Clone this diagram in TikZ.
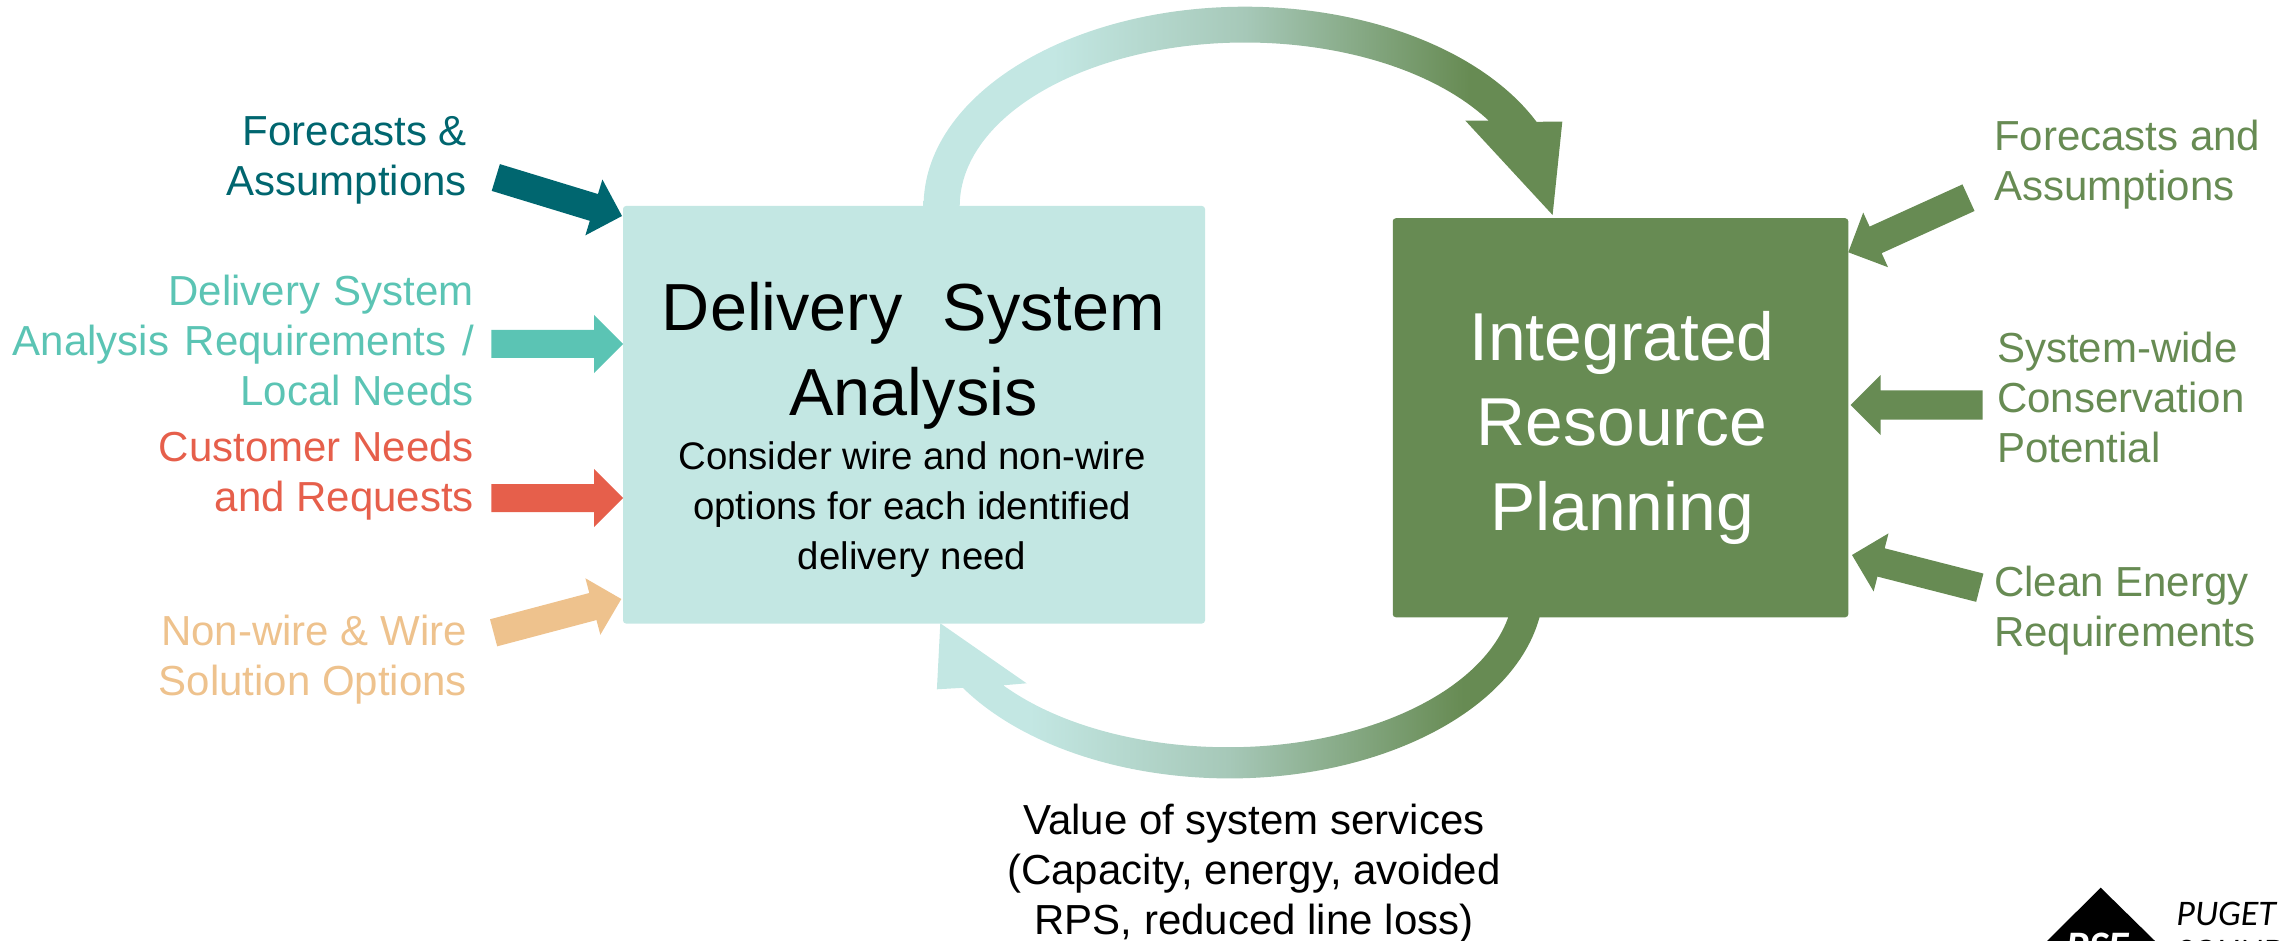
\documentclass[tikz,border=0pt]{standalone}
\usepackage{fontspec}
\setmainfont{Liberation Sans}
\newfontfamily\logofont{Carlito}
\usetikzlibrary{calc}
\definecolor{cDark}{HTML}{00666F}
\definecolor{cMid}{HTML}{5BC4B4}
\definecolor{cRed}{HTML}{E65F4B}
\definecolor{cOrange}{HTML}{EEC28D}
\definecolor{cLight}{HTML}{C3E7E3}
\definecolor{cGreen}{HTML}{678B53}
\definecolor{cBlend}{HTML}{A6C8B8}
% the filled rectangle covers the central 25bp .. 75bp of the shading
\pgfdeclarehorizontalshading{upperfade}{100bp}{color(0bp)=(cLight); color(35.2bp)=(cLight); color(50.2bp)=(cBlend); color(67.7bp)=(cGreen); color(100bp)=(cGreen)}
\pgfdeclarehorizontalshading{lowerfade}{100bp}{color(0bp)=(cLight); color(33bp)=(cLight); color(49.1bp)=(cBlend); color(68bp)=(cGreen); color(100bp)=(cGreen)}
\tikzset{
  x=0.5pt,y=-0.5pt,
  box/.style={rectangle,rounded corners=1.5pt,inner sep=0pt,outer sep=0pt},
  lab/.style={inner sep=0pt,outer sep=0pt,font=\fontsize{21}{25}\selectfont},
  lableft/.style={lab,anchor=east,align=right},
  labright/.style={lab,anchor=west,align=left},
}
% tail, tip, head length, half shaft, half head, colour
\newcommand{\blockarrow}[6]{%
  \coordinate (hb) at ($(#2)!#3!(#1)$);
  \fill[#6] ($(#1)!#4!90:(#2)$) -- ($(hb)!#4!90:(#2)$) -- ($(hb)!#5!90:(#2)$) -- (#2)
    -- ($(hb)!#5!-90:(#2)$) -- ($(hb)!#4!-90:(#2)$) -- ($(#1)!#4!-90:(#2)$) -- cycle;}
\begin{document}
\begin{tikzpicture}
\useasboundingbox (0,0) rectangle (2287,941);
% curved arrows
\begin{scope}
  \clip (923.6,206) arc[start angle=180,end angle=25,x radius=160.75pt,y radius=99.65pt]
    -- (1562.3,121.7) -- (1552.6,215) -- (1465.4,120.7) -- (1488.8,120.7)
    arc[start angle=31.5,end angle=180,x radius=142.8pt,y radius=81.85pt] -- cycle;
  \path[shading=upperfade] (923,0) rectangle (1563,225);
\end{scope}
\begin{scope}
  \clip (1539.6,617) arc[start angle=-9.5,end angle=-147.9,x radius=157.3pt,y radius=96.65pt]
    -- (936.9,689.3) -- (940.3,623.3) -- (1026.6,683.3) -- (1003.2,685.3)
    arc[start angle=-141.8,end angle=-11.4,x radius=143pt,y radius=81.15pt] -- cycle;
  \path[shading=lowerfade] (930,610) rectangle (1550,790);
\end{scope}
% boxes
\node[box,fill=cLight,minimum width=291pt,minimum height=208.75pt] (dsa) at (914,414.75) {};
\node[box,fill=cGreen,minimum width=227.75pt,minimum height=199.5pt] (irp) at (1620.5,417.75) {};
% box texts
\node[inner sep=0pt,align=center,font=\fontsize{33.3}{42.5}\selectfont] (dsat) at (913.5,355.5) {Delivery\hspace{0.33em}\ System\\Analysis};
\node[inner sep=0pt,align=center,font=\fontsize{19.2}{25}\selectfont] (dsas) at (912,509.5) {Consider wire and non-wire\\options for each identified\\delivery need};
\node[inner sep=0pt,align=center,text=white,font=\fontsize{33.9}{42.5}\selectfont] (irpt) at (1622,428) {Integrated\\Resource\\Planning};
% left labels
\node[lableft,text=cDark] (l1) at (467,160.5) {Forecasts \&\\Assumptions};
\node[lableft,text=cMid] (l2) at (474,340) {Delivery\hspace{0.05em} System\\Analysis\hspace{0.1em} Requirements\hspace{0.1em} /\\Local Needs};
\node[lableft,text=cRed] (l3) at (474,476) {Customer Needs\\and Requests};
\node[lableft,text=cOrange] (l4) at (467,660) {Non-wire \& Wire\\Solution Options};
% right labels
\node[labright,text=cGreen] (r1) at (1994,164.5) {Forecasts and\\Assumptions};
\node[labright,text=cGreen] (r2) at (1997,397) {System-wide\\Conservation\\Potential};
\node[labright,text=cGreen] (r3) at (1994,610.5) {Clean Energy\\Requirements};
% bottom label
\node[lab,align=center] (val) at (1254,874) {Value of system services\\(Capacity, energy, avoided\\RPS, reduced line loss)};
% block arrows, left
\coordinate (t1) at (495.8,177.5); \coordinate (h1) at (622,216);
\coordinate (t2) at (491.3,344);   \coordinate (h2) at (dsa.west |- t2);
\coordinate (t3) at (491.3,498);   \coordinate (h3) at (dsa.west |- t3);
\coordinate (t4) at (493.6,632.8); \coordinate (h4) at (621.3,599);
\blockarrow{t1}{h1}{14.7pt}{7pt}{14.6pt}{cDark}
\blockarrow{t2}{h2}{14.5pt}{7pt}{14.5pt}{cMid}
\blockarrow{t3}{h3}{14.5pt}{7pt}{14.5pt}{cRed}
\blockarrow{t4}{h4}{14.7pt}{7pt}{14.6pt}{cOrange}
% block arrows, right
\coordinate (t5) at (1968.5,197.7); \coordinate (h5) at (1848.3,252.3);
\coordinate (t6) at (1982.7,405);   \coordinate (h6) at (1850.7,405);
\coordinate (t7) at (1979.8,587.7); \coordinate (h7) at (1852,555);
\blockarrow{t5}{h5}{15pt}{7.3pt}{15pt}{cGreen}
\blockarrow{t6}{h6}{15pt}{7.3pt}{15pt}{cGreen}
\blockarrow{t7}{h7}{15pt}{7.3pt}{15pt}{cGreen}
% logo
\fill[black] (2100.7,887.7) -- (2047,941) -- (2155,941) -- cycle;
\node[inner sep=0pt,anchor=north,text=white,font=\logofont\bfseries\itshape\fontsize{21}{25}\selectfont] (pse) at (2098,933) {PSE};
\node[inner sep=0pt,anchor=north west,align=left,font=\logofont\itshape\fontsize{18}{19}\selectfont] (psec) at (2176,902) {PUGET\\SOUND};
\end{tikzpicture}
\end{document}
